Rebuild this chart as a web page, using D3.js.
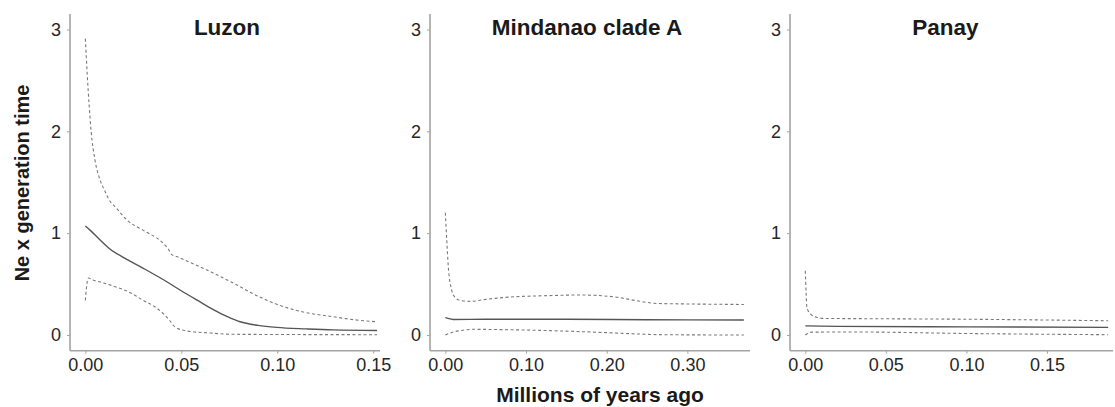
<!DOCTYPE html>
<html>
<head>
<meta charset="utf-8">
<script src="https://cdn.jsdelivr.net/npm/d3@7"></script>
<style>
  body { margin: 0; background: #fff; }
  svg { display: block; font-family: "Liberation Sans", Arial, sans-serif; }
</style>
</head>
<body>
<div class="d3-container"></div>
<script>
// panel names
const panelNames = ["Luzon", "Mindanao clade A", "Panay"];

// Luzon: [time (Mya), Ne x generation time]
const luzonUpper = [[0,2.91],[0.001,2.55],[0.002,2.25],[0.003,2.0],[0.005,1.72],[0.0077,1.52],[0.010,1.42],[0.0123,1.33],[0.016,1.25],[0.0216,1.13],[0.030,1.03],[0.0406,0.90],[0.043,0.85],[0.045,0.79],[0.0476,0.77],[0.0597,0.67],[0.0771,0.51],[0.090,0.38],[0.103,0.28],[0.115,0.22],[0.129,0.18],[0.140,0.15],[0.152,0.13]];
const luzonMedian = [[0,1.07],[0.003,1.02],[0.007,0.945],[0.0128,0.845],[0.020,0.76],[0.0302,0.655],[0.040,0.55],[0.0493,0.442],[0.058,0.345],[0.0667,0.25],[0.074,0.18],[0.0806,0.13],[0.090,0.095],[0.0997,0.075],[0.115,0.06],[0.129,0.05],[0.152,0.045]];
const luzonLower = [[0,0.34],[0.0005,0.45],[0.0016,0.56],[0.004,0.54],[0.0077,0.52],[0.0163,0.47],[0.024,0.41],[0.0302,0.34],[0.036,0.28],[0.0406,0.21],[0.044,0.14],[0.0467,0.08],[0.0528,0.04],[0.065,0.02],[0.077,0.007],[0.152,0.003]];

// Mindanao clade A
const mindUpper = [[0,1.20],[0.002,0.90],[0.0037,0.67],[0.0079,0.44],[0.012,0.37],[0.018,0.34],[0.031,0.33],[0.05,0.35],[0.084,0.375],[0.12,0.385],[0.167,0.393],[0.208,0.376],[0.235,0.34],[0.262,0.31],[0.30,0.305],[0.37,0.30]];
const mindMedian = [[0,0.17],[0.01,0.153],[0.05,0.155],[0.15,0.155],[0.25,0.15],[0.37,0.147]];
const mindLower = [[0,0.0],[0.01,0.03],[0.02,0.045],[0.034,0.056],[0.07,0.053],[0.105,0.048],[0.15,0.038],[0.2,0.023],[0.24,0.01],[0.27,0.003],[0.37,0.0]];

// Panay
const panayUpper = [[0,0.63],[0.0005,0.42],[0.0009,0.28],[0.002,0.23],[0.004,0.196],[0.007,0.175],[0.011,0.163],[0.042,0.16],[0.1,0.155],[0.188,0.14]];
const panayMedian = [[0,0.09],[0.02,0.085],[0.1,0.08],[0.188,0.075]];
const panayLower = [[0,0.0],[0.002,0.02],[0.004,0.028],[0.03,0.03],[0.1,0.015],[0.188,0.003]];

// tick labels
const yTicks = [0, 1, 2, 3];
const xTicks = [[0, 0.05, 0.10, 0.15], [0, 0.10, 0.20, 0.30], [0, 0.05, 0.10, 0.15]];
const xDomains = [[-0.008, 0.1535], [-0.019, 0.3776], [-0.0095, 0.191]];

const width = 1115;
const height = 407;
const panelLeft = [70, 430, 790];
const panelRight = [380, 750, 1113];
const titleShift = [2, -3, -6];
const plotTop = 14, plotBottom = 350.7;

const series = [
  {upper: luzonUpper, median: luzonMedian, lower: luzonLower},
  {upper: mindUpper, median: mindMedian, lower: mindLower},
  {upper: panayUpper, median: panayMedian, lower: panayLower},
];

const svg = d3.select(".d3-container")
  .append("svg")
  .attr("width", width)
  .attr("height", height);

const y = d3.scaleLinear()
  .domain([-0.154, 3.152])
  .range([plotBottom, plotTop]);

const axisColor = "#a3a3a3";
const textColor = "#262626";

panelNames.forEach((name, i) => {
  const x = d3.scaleLinear()
    .domain(xDomains[i])
    .range([panelLeft[i], panelRight[i]]);

  const g = svg.append("g");

  // y axis
  const ya = g.append("g")
    .attr("transform", `translate(${panelLeft[i]},0)`)
    .call(d3.axisLeft(y).tickValues(yTicks).tickFormat(d3.format("d")).tickSize(3).tickPadding(6));
  ya.select(".domain").remove();
  ya.selectAll("line").attr("stroke", axisColor);
  ya.selectAll("text").attr("fill", textColor).style("font-size", "18px");
  g.append("line")
    .attr("x1", panelLeft[i]).attr("x2", panelLeft[i])
    .attr("y1", plotTop).attr("y2", plotBottom)
    .attr("stroke", axisColor).attr("stroke-width", 1.6);

  // x axis
  const xa = g.append("g")
    .attr("transform", `translate(0,${plotBottom})`)
    .call(d3.axisBottom(x).tickValues(xTicks[i]).tickFormat(d3.format(".2f")).tickSize(3).tickPadding(5));
  xa.select(".domain").remove();
  xa.selectAll("line").attr("stroke", axisColor);
  xa.selectAll("text").attr("fill", textColor).style("font-size", "18px");
  g.append("line")
    .attr("x1", panelLeft[i]).attr("x2", panelRight[i])
    .attr("y1", plotBottom).attr("y2", plotBottom)
    .attr("stroke", axisColor).attr("stroke-width", 1.6);

  const line = d3.line()
    .x(d => x(d[0]))
    .y(d => y(d[1]))
    .curve(d3.curveMonotoneX);

  const s = series[i];
  [s.upper, s.lower].forEach(pts => {
    g.append("path")
      .attr("d", line(pts))
      .attr("fill", "none")
      .attr("stroke", "#7a7a7a")
      .attr("stroke-width", 1.1)
      .attr("stroke-dasharray", "3,2.5");
  });
  g.append("path")
    .attr("d", line(s.median))
    .attr("fill", "none")
    .attr("stroke", "#555")
    .attr("stroke-width", 1.4);

  // title
  g.append("text")
    .attr("x", (panelLeft[i] + panelRight[i]) / 2 + titleShift[i])
    .attr("y", 35)
    .attr("text-anchor", "middle")
    .attr("font-weight", "bold")
    .attr("fill", "#1a1a1a")
    .style("font-size", "22.5px")
    .text(name);
});

// axis titles
svg.append("text")
  .attr("x", 600)
  .attr("y", 402)
  .attr("text-anchor", "middle")
  .attr("font-weight", "bold")
  .attr("fill", "#1a1a1a")
  .style("font-size", "21px")
  .text("Millions of years ago");

svg.append("text")
  .attr("transform", `translate(29,183) rotate(-90)`)
  .attr("text-anchor", "middle")
  .attr("font-weight", "bold")
  .attr("fill", "#1a1a1a")
  .style("font-size", "20px")
  .text("Ne x generation time");
</script>
</body>
</html>
